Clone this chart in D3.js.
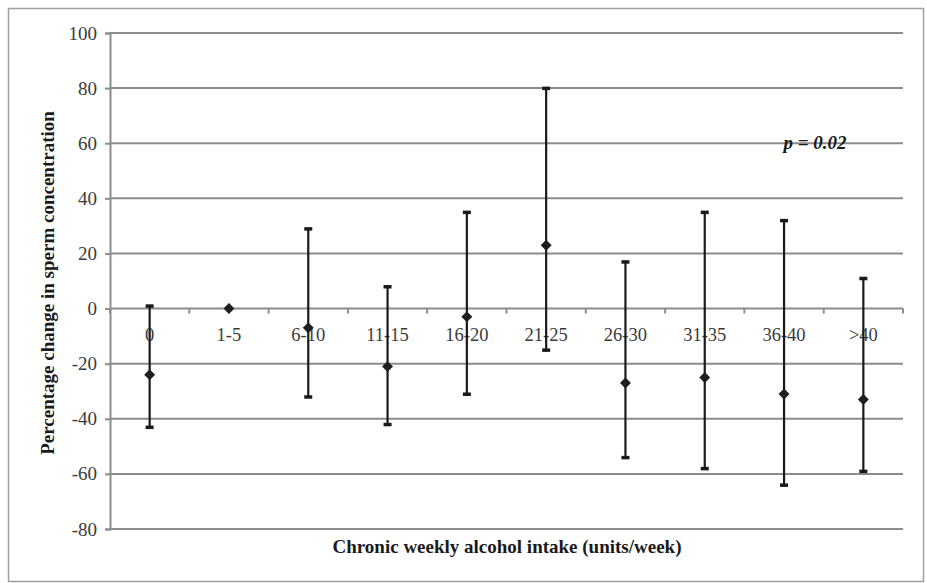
<!DOCTYPE html>
<html>
<head>
<meta charset="utf-8">
<script src="https://cdn.jsdelivr.net/npm/d3@7"></script>
<style>
  body { margin: 0; background: #fff; }
  svg text { font-family: "Liberation Serif", "DejaVu Serif", serif; }
</style>
</head>
<body>
<div id="chart"></div>
<script>
// Data
var categories = ["0", "1-5", "6-10", "11-15", "16-20", "21-25", "26-30", "31-35", "36-40", ">40"];
var means = [-24, 0, -7, -21, -3, 23, -27, -25, -31, -33];
var upper = [1, 0, 29, 8, 35, 80, 17, 35, 32, 11];
var lower = [-43, 0, -32, -42, -31, -15, -54, -58, -64, -59];
var yTicks = [-80, -60, -40, -20, 0, 20, 40, 60, 80, 100];

var svgWidth = 927, svgHeight = 583;
var margin = { top: 33, right: 24, bottom: 54, left: 110 };
var width = svgWidth - margin.left - margin.right,
    height = svgHeight - margin.top - margin.bottom;

var svg = d3.select("#chart")
    .append("svg")
    .attr("width", svgWidth)
    .attr("height", svgHeight);

// outer frame
svg.append("rect")
    .attr("x", 8.5).attr("y", 8.5)
    .attr("width", 915).attr("height", 573)
    .attr("fill", "none")
    .attr("stroke", "#a0a0a0")
    .attr("stroke-width", 1.5);

var chartGroup = svg.append("g")
    .attr("transform", `translate(${margin.left}, ${margin.top})`);

var x = d3.scaleBand()
    .domain(categories)
    .range([0, width])
    .padding(0);

var y = d3.scaleLinear()
    .domain([-80, 100])
    .range([height, 0]);

// gridlines
chartGroup.selectAll("line.grid")
    .data(yTicks)
    .enter().append("line")
    .attr("class", "grid")
    .attr("x1", 0).attr("x2", width)
    .attr("y1", d => y(d)).attr("y2", d => y(d))
    .attr("stroke", "#8c8c8c")
    .attr("stroke-width", 2);

// y axis (plain hyphen minus like the original)
var leftAxis = d3.axisLeft(y)
    .tickValues(yTicks)
    .tickFormat(d => String(d))
    .tickSize(5)
    .tickPadding(8);
var yAxis = chartGroup.append("g").call(leftAxis);
yAxis.select(".domain").attr("stroke", "#8c8c8c").attr("stroke-width", 2);
yAxis.selectAll(".tick line").attr("stroke", "#8c8c8c").attr("stroke-width", 2);
yAxis.selectAll("text")
    .attr("font-size", 19)
    .attr("fill", "#3a3a3a")
    .style("font-family", "'Liberation Serif', serif");

// x axis at zero, ticks at category boundaries
var bounds = categories.map(c => x(c)).concat([width]);
chartGroup.selectAll("line.xtick")
    .data(bounds)
    .enter().append("line")
    .attr("class", "xtick")
    .attr("x1", d => d).attr("x2", d => d)
    .attr("y1", y(0)).attr("y2", y(0) + 5)
    .attr("stroke", "#8c8c8c")
    .attr("stroke-width", 2);

chartGroup.selectAll("text.xlab")
    .data(categories)
    .enter().append("text")
    .attr("class", "xlab")
    .attr("x", d => x(d) + x.bandwidth() / 2)
    .attr("y", y(0) + 32)
    .attr("text-anchor", "middle")
    .attr("font-size", 18.5)
    .attr("fill", "#3a3a3a")
    .text(d => d);

// error bars
var idx = d3.range(categories.length);
var cx = i => x(categories[i]) + x.bandwidth() / 2;

chartGroup.selectAll("line.err")
    .data(idx.filter(i => upper[i] !== lower[i]))
    .enter().append("line")
    .attr("class", "err")
    .attr("x1", cx).attr("x2", cx)
    .attr("y1", i => y(upper[i])).attr("y2", i => y(lower[i]))
    .attr("stroke", "#1a1a1a")
    .attr("stroke-width", 2.2);

var caps = [];
idx.forEach(function(i) {
    if (upper[i] !== lower[i]) {
        caps.push({ i: i, v: upper[i] });
        caps.push({ i: i, v: lower[i] });
    }
});
chartGroup.selectAll("rect.cap")
    .data(caps)
    .enter().append("rect")
    .attr("class", "cap")
    .attr("x", d => cx(d.i) - 4)
    .attr("y", d => y(d.v) - 1.5)
    .attr("width", 8).attr("height", 3.5)
    .attr("fill", "#1a1a1a");

// diamond markers
var diamond = d3.symbol().type(d3.symbolDiamond2).size(76);
chartGroup.selectAll("path.mean")
    .data(idx)
    .enter().append("path")
    .attr("class", "mean")
    .attr("d", diamond)
    .attr("transform", i => `translate(${cx(i)}, ${y(means[i])})`)
    .attr("fill", "#1e1e1e");

// p-value annotation
chartGroup.append("text")
    .attr("x", 705)
    .attr("y", y(60) + 6)
    .attr("text-anchor", "middle")
    .attr("font-size", 19)
    .attr("font-weight", "bold")
    .attr("font-style", "italic")
    .attr("fill", "#1a1a1a")
    .text("p = 0.02");

// axis titles
svg.append("text")
    .attr("x", 507)
    .attr("y", 553)
    .attr("text-anchor", "middle")
    .attr("font-size", 19)
    .attr("font-weight", "bold")
    .attr("fill", "#1a1a1a")
    .text("Chronic weekly alcohol intake (units/week)");

svg.append("text")
    .attr("transform", "rotate(-90)")
    .attr("x", -283)
    .attr("y", 54)
    .attr("text-anchor", "middle")
    .attr("font-size", 19)
    .attr("font-weight", "bold")
    .attr("fill", "#1a1a1a")
    .text("Percentage change in sperm concentration");
</script>
</body>
</html>
